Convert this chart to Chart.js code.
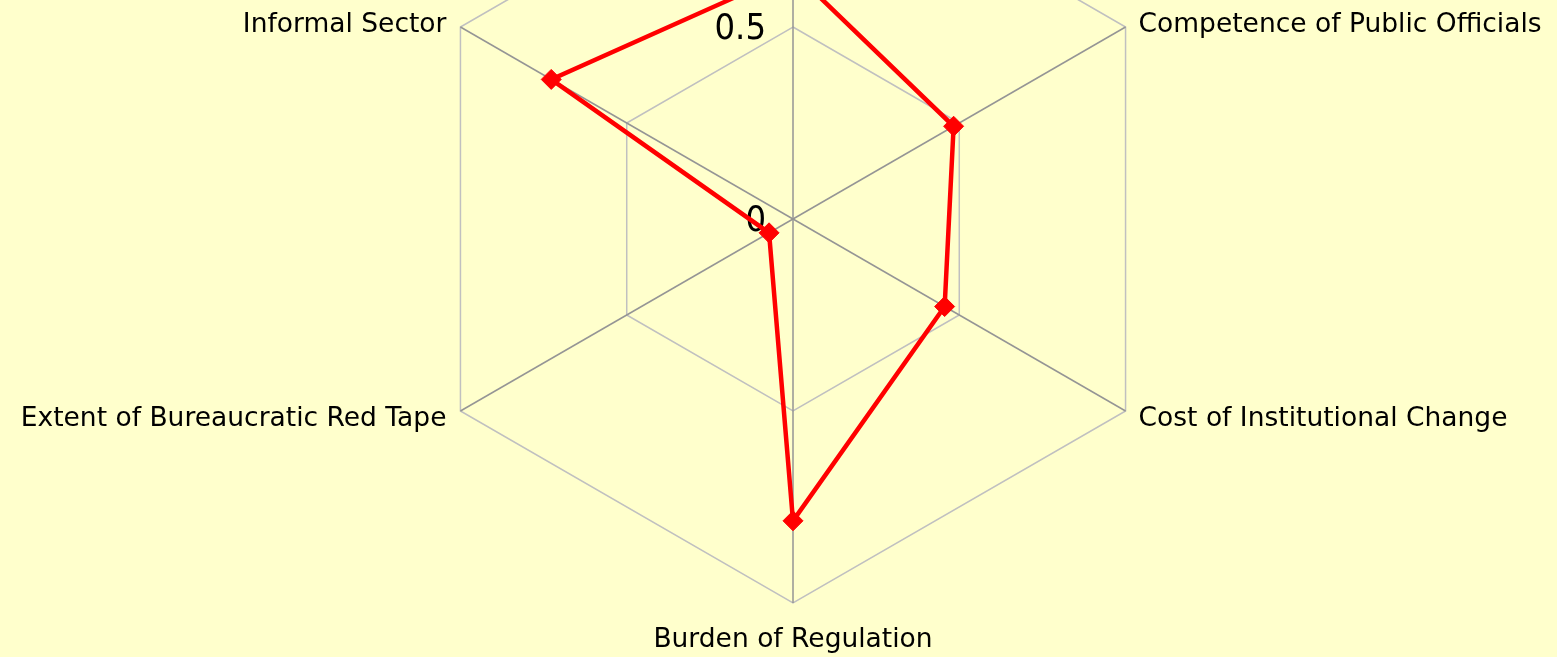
<!DOCTYPE html>
<html>
<head>
<meta charset="utf-8">
<script src="https://cdn.jsdelivr.net/npm/chart.js@4/dist/chart.umd.min.js"></script>
<style>
    html, body {margin: 0; padding: 0; background: #ffffcc; overflow: hidden; width: 1557px; height: 657px;}
    #wrap {position: absolute; left: 0; top: -165px;}
</style>
</head>
<body>
<div id="wrap"><canvas id="radar" width="1586" height="858"></canvas></div>
<script>
// the top axis sits outside the visible area, its label is not readable
const categories = [
    "",
    "Competence of Public Officials",
    "Cost of Institutional Change",
    "Burden of Regulation",
    "Extent of Bureaucratic Red Tape",
    "Informal Sector",
];
const scores = [0.645, 0.483, 0.456, 0.786, 0.072, 0.727];
const tickValues = [0, 0.5, 1];

const labelFont = "26.5px 'DejaVu Sans'";
const tickFont = "36px 'DejaVu Sans Condensed'";

// axis labels beside the vertices, tick labels left of the vertical spoke
const labelsPlugin = {
    id: "radarLabels",
    beforeDatasetsDraw(chart) {
        const scale = chart.scales.r;
        const ctx = chart.ctx;
        ctx.save();
        ctx.fillStyle = "#000";
        ctx.textBaseline = "middle";

        ctx.font = tickFont;
        ctx.textAlign = "right";
        scale.ticks.forEach(t => {
            const d = scale.getDistanceFromCenterForValue(t.value);
            ctx.fillText(t.label, scale.xCenter - 27, scale.yCenter - d + 3);
        });

        ctx.font = labelFont;
        chart.data.labels.forEach((label, i) => {
            const p = scale.getPointPosition(i, scale.drawingArea);
            const dx = p.x - scale.xCenter;
            const below = p.y > scale.yCenter;
            if (Math.abs(dx) < 1) {
                ctx.textAlign = "center";
                ctx.fillText(label, p.x, p.y + (below ? 37 : -33));
            } else {
                ctx.textAlign = dx > 0 ? "left" : "right";
                ctx.fillText(label, p.x + (dx > 0 ? 13 : -14), p.y + (below ? 8 : -2));
            }
        });
        ctx.restore();
    },
};

new Chart(document.getElementById("radar"), {
    type: "radar",
    data: {
        labels: categories,
        datasets: [{
            data: scores,
            fill: false,
            borderColor: "#ff0000",
            borderWidth: 4.5,
            tension: 0,
            pointStyle: "rectRot",
            pointRadius: 10,
            pointBackgroundColor: "#ff0000",
            pointBorderColor: "#ff0000",
            pointBorderWidth: 1,
        }],
    },
    options: {
        responsive: false,
        animation: false,
        layout: {padding: {bottom: 90}},
        plugins: {
            legend: {display: false},
            tooltip: {enabled: false},
        },
        scales: {
            r: {
                min: tickValues[0],
                max: tickValues[tickValues.length - 1],
                ticks: {stepSize: tickValues[1] - tickValues[0], display: false},
                grid: {color: "#c0c0c0", lineWidth: 1.5},
                angleLines: {color: "#959595", lineWidth: 1.5},
                pointLabels: {display: false},
            },
        },
    },
    plugins: [labelsPlugin],
});
</script>
</body>
</html>
